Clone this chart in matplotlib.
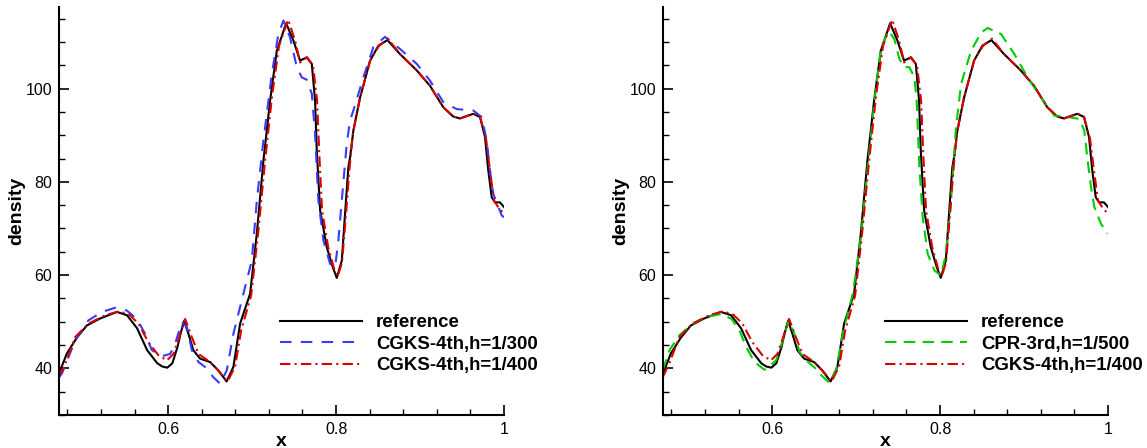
import numpy as np
import matplotlib
matplotlib.use("Agg")
import matplotlib.pyplot as plt
from matplotlib.ticker import MultipleLocator, FixedLocator

plt.rcParams['font.family'] = ['Liberation Sans', 'DejaVu Sans']

# reference solution
ref_x = [0.4702, 0.4794, 0.4913, 0.5032, 0.519, 0.539, 0.551, 0.563, 0.575, 0.587,
         0.593, 0.599, 0.605, 0.611, 0.615, 0.619, 0.624, 0.630, 0.638, 0.650, 0.6595, 0.6696,
         0.6777, 0.6857, 0.6976, 0.7056, 0.7135, 0.7214, 0.7294, 0.7405, 0.7492, 0.7571,
         0.7651, 0.7711, 0.775, 0.777, 0.781, 0.7889, 0.7961, 0.8008, 0.8068, 0.8107,
         0.8146, 0.8167, 0.8206, 0.8286, 0.8405, 0.8504, 0.8611, 0.8762, 0.8961, 0.9119,
         0.9277, 0.9396, 0.9476, 0.9635, 0.9714, 0.9774, 0.9813, 0.9854, 0.9893, 0.9952, 1.0]
ref_y = [39.0, 43.2, 46.6, 49.2, 50.7, 52.1, 51.4, 48.6, 43.9, 41.1,
         40.4, 40.15, 41.1, 44.5, 47.6, 50.2, 47.5, 43.9, 42.1, 41.35, 39.6, 37.2,
         40.3, 49.6, 56.0, 68.9, 84.6, 97.4, 108.1, 114.0, 110.3, 106.0,
         106.7, 105.3, 97.4, 86.7, 73.9, 66.0, 61.7, 59.4, 63.1, 73.2,
         83.1, 85.3, 91.0, 98.1, 106.0, 109.2, 110.4, 107.4, 103.9, 100.6,
         96.0, 94.0, 93.6, 94.6, 93.9, 89.6, 82.4, 76.7, 75.6, 75.6, 74.6]

# CGKS-4th, h=1/300
c300_x = [0.4702, 0.4735, 0.4893, 0.5051, 0.5211, 0.5369, 0.5508, 0.5627, 0.5726, 0.5806,
          0.5925, 0.6024, 0.6083, 0.6163, 0.6223, 0.6282, 0.6361, 0.644, 0.6539, 0.6619,
          0.6699, 0.6777, 0.6896, 0.6996, 0.7056, 0.7135, 0.7235, 0.7313, 0.7373, 0.7452,
          0.7532, 0.7592, 0.7651, 0.7711, 0.775, 0.7789, 0.7849, 0.7929, 0.7988, 0.8027,
          0.8068, 0.8127, 0.8167, 0.8206, 0.8325, 0.8444, 0.8583, 0.8762, 0.8961, 0.9119,
          0.9277, 0.9437, 0.9635, 0.9734, 0.9794, 0.9833, 0.9873, 0.9973, 1.0]
c300_y = [38.1, 38.9, 46.0, 50.3, 52.1, 53.0, 52.4, 50.6, 47.4, 43.9,
          42.6, 43.1, 45.3, 49.9, 48.9, 43.9, 41.35, 40.3, 38.1, 36.7,
          39.6, 47.4, 56.0, 63.1, 76.0, 88.9, 103.2, 111.7, 114.6, 111.0,
          104.6, 102.4, 101.9, 98.9, 90.3, 76.0, 67.4, 62.4, 61.7, 67.4,
          76.0, 88.2, 93.2, 95.3, 102.4, 108.9, 111.1, 108.5, 105.3, 101.7,
          97.1, 95.6, 95.3, 93.9, 88.9, 82.4, 77.4, 72.8, 72.4]

# CGKS-4th, h=1/400
c400_x = [0.4702, 0.4774, 0.4893, 0.5051, 0.525, 0.5408, 0.5527, 0.5646, 0.5765, 0.5885,
          0.5985, 0.6063, 0.6131, 0.6202, 0.6282, 0.6361, 0.65, 0.6595, 0.6708, 0.6798,
          0.6869, 0.6988, 0.7071, 0.7155, 0.7238, 0.7321, 0.7429, 0.7512, 0.7571, 0.7655,
          0.7726, 0.7774, 0.7798, 0.7833, 0.7905, 0.7976, 0.8018, 0.8071, 0.8119, 0.8161,
          0.8202, 0.8286, 0.8405, 0.8512, 0.8619, 0.8762, 0.8961, 0.9119, 0.9277, 0.9396,
          0.9476, 0.9635, 0.9714, 0.9786, 0.9833, 0.9881, 0.994, 1.0]
c400_y = [38.3, 41.0, 46.7, 49.6, 51.4, 52.2, 51.7, 49.6, 45.6, 42.8,
          41.7, 43.1, 46.7, 50.6, 46.7, 43.1, 41.35, 39.6, 37.2, 40.4,
          48.1, 55.6, 68.9, 84.6, 98.5, 109.2, 114.8, 110.3, 105.6, 106.7,
          104.9, 97.4, 86.7, 73.9, 66.1, 61.4, 59.7, 62.7, 73.2, 83.1,
          90.6, 98.1, 106.0, 109.2, 110.7, 107.4, 103.9, 100.6, 96.0, 94.0,
          93.6, 94.6, 94.0, 89.3, 82.4, 76.0, 74.3, 73.2]

# CPR-3rd, h=1/500
cpr_x = [0.4698, 0.4777, 0.4896, 0.5055, 0.5214, 0.5373, 0.5512, 0.5611, 0.569, 0.5789,
         0.5908, 0.6048, 0.6126, 0.6198, 0.6265, 0.6325, 0.6405, 0.6524, 0.6563, 0.6682,
         0.6762, 0.684, 0.696, 0.7063, 0.7138, 0.7218, 0.7298, 0.7388, 0.7455, 0.7515,
         0.7574, 0.7634, 0.7694, 0.7721, 0.7754, 0.7793, 0.7852, 0.7932, 0.8012, 0.8071,
         0.8131, 0.819, 0.825, 0.8369, 0.8488, 0.8567, 0.8726, 0.8885, 0.9043, 0.9202,
         0.9361, 0.9519, 0.9658, 0.9718, 0.9757, 0.9798, 0.9837, 0.9917, 0.9995]
cpr_y = [39.6, 43.9, 47.1, 49.6, 51.0, 51.6, 50.7, 48.1, 44.6, 41.4,
         39.7, 41.7, 46.0, 50.3, 47.4, 43.6, 41.7, 39.9, 38.9, 36.9,
         39.6, 47.4, 56.0, 68.9, 83.1, 97.4, 108.9, 112.4, 110.6, 106.4,
         104.6, 104.6, 102.4, 97.4, 83.1, 72.4, 64.6, 61.0, 59.9, 64.6,
         76.0, 91.7, 101.0, 108.1, 112.0, 113.0, 111.7, 107.4, 102.4, 98.1,
         94.2, 93.9, 93.5, 91.0, 84.6, 78.9, 74.6, 71.0, 68.9]

x_ticks = [0.6, 0.8, 1.0]
x_ticklabels = ['0.6', '0.8', '1']
y_ticks = [40, 60, 80, 100]

BLUE = '#3a3aff'
GREEN = '#00cc00'
RED = '#dd0000'

fig = plt.figure(figsize=(11.47, 4.48), dpi=100)
ax1 = fig.add_axes([59/1147, 33/448, 445/1147, 408/448])
ax2 = fig.add_axes([663/1147, 33/448, 445/1147, 408/448])


def style(ax):
    ax.set_xlim(0.47, 1.0)
    ax.set_ylim(30, 117.5)
    for s in ['top', 'right']:
        ax.spines[s].set_visible(False)
    for s in ['left', 'bottom']:
        ax.spines[s].set_linewidth(1.5)
    ax.xaxis.set_major_locator(FixedLocator(x_ticks))
    ax.set_xticklabels(x_ticklabels)
    ax.xaxis.set_minor_locator(MultipleLocator(0.04))
    ax.yaxis.set_major_locator(FixedLocator(y_ticks))
    ax.yaxis.set_minor_locator(MultipleLocator(5))
    ax.tick_params(which='major', direction='in', length=7.5, width=1.2,
                   labelsize=11.5, pad=5)
    ax.tick_params(which='minor', direction='in', length=4, width=1.0)
    ax.set_xlabel('x', fontsize=14, fontweight='bold', labelpad=-3)
    ax.set_ylabel('density', fontsize=14, fontweight='bold', labelpad=0)


# left: grid refinement
ax1.plot(ref_x, ref_y, color='black', lw=1.5, label='reference')
ax1.plot(c300_x, c300_y, color=BLUE, lw=1.5, dashes=(5.5, 4.5), label='CGKS-4th,h=1/300')
ax1.plot(c400_x, c400_y, color=RED, lw=1.5, dashes=(5, 2, 1, 2), label='CGKS-4th,h=1/400')
style(ax1)

# right: compare with CPR
ax2.plot(ref_x, ref_y, color='black', lw=1.5, label='reference')
ax2.plot(cpr_x, cpr_y, color=GREEN, lw=1.5, dashes=(5.5, 3.5), label='CPR-3rd,h=1/500')
ax2.plot(c400_x, c400_y, color=RED, lw=1.5, dashes=(5, 2, 1, 2), label='CGKS-4th,h=1/400')
style(ax2)

for ax, xa in [(ax1, 0.4966), (ax2, 0.499)]:
    ax.legend(loc='center left', bbox_to_anchor=(xa, 0.174), frameon=False,
              borderpad=0, borderaxespad=0, handlelength=4.4, handletextpad=0.75,
              labelspacing=0.24, prop={'size': 13.4, 'weight': 'bold'})

fig.savefig('out.png', dpi=100)
